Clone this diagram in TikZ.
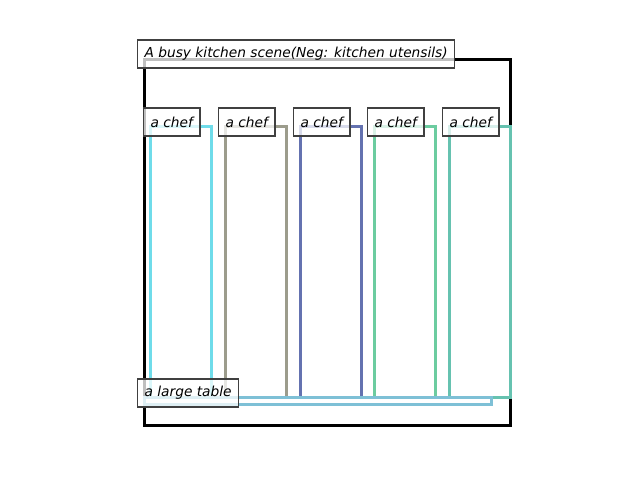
\documentclass[tikz,border=0pt]{standalone}
\usepackage{fontspec}
\setmainfont{DejaVu Sans}
\usetikzlibrary{positioning}
\usepackage{xcolor}

\definecolor{chefA}{HTML}{6FDCEA}
\definecolor{chefB}{HTML}{9C9C8C}
\definecolor{chefC}{HTML}{6472B0}
\definecolor{chefD}{HTML}{6CCCA0}
\definecolor{chefE}{HTML}{66C2B0}
\definecolor{tableC}{HTML}{7EC0D6}
\definecolor{lblborder}{HTML}{404040}

\tikzset{
	lbl/.style={draw=lblborder, line width=1.2pt, fill=white, fill opacity=0.75, text opacity=1,
		anchor=west, inner xsep=7pt, inner ysep=0pt, minimum height=28pt,
		font=\fontsize{13.75}{16}\selectfont\itshape},
	objbox/.style={line width=3pt},
}

\begin{document}
\begin{tikzpicture}[x=1pt, y=-1pt]
		\useasboundingbox (0,0) rectangle (640,480);
		% scene frame
		\draw[line width=3pt] (144,59) rectangle (510,425);
		% the chefs
		\foreach \i/\xl/\col in {1/150/chefA, 2/225/chefB, 3/300/chefC, 4/374/chefD, 5/449/chefE} {
			\draw[objbox, \col] (\xl,126) rectangle ({\xl+61},397);
		}
		% the table
		\draw[objbox, tableC] (144,397) rectangle (491,404);
		% labels
		\node[lbl] (scene) at (137,54) {A busy kitchen scene(Neg: kitchen utensils)};
		\foreach \i/\xl in {1/143, 2/218, 3/293, 4/367, 5/442} {
			\node[lbl] (chef\i) at (\xl,122) {a chef};
		}
		\node[lbl] (table) at (137,393) {a large table};
	\end{tikzpicture}
\end{document}
